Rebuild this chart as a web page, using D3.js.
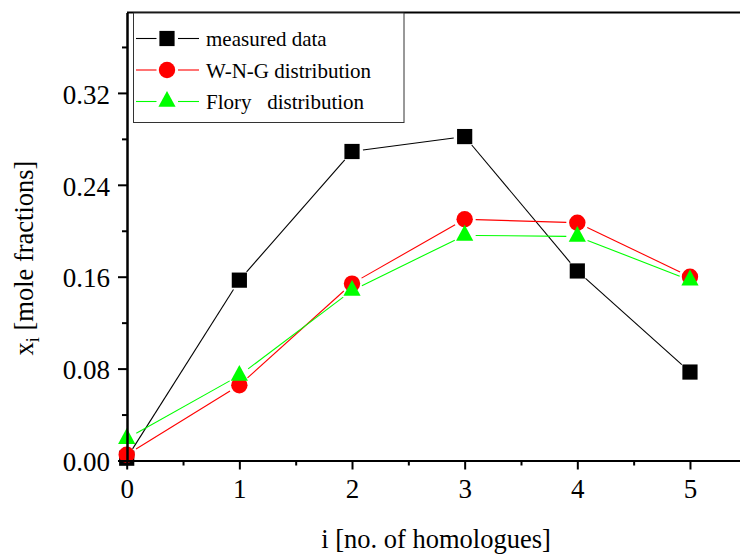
<!DOCTYPE html>
<html>
<head>
<meta charset="utf-8">
<script src="https://cdn.jsdelivr.net/npm/d3@7"></script>
<style>
  html, body { margin: 0; padding: 0; background: #fff; }
  svg { display: block; font-family: "Liberation Serif", "Times New Roman", serif; }
</style>
</head>
<body>
<svg id="chart" width="740" height="555"></svg>
<script>
// Homologue number i and mole fractions x_i for each series
const homologues = [0, 1, 2, 3, 4, 5];
const measuredData = [0.002, 0.157, 0.269, 0.282, 0.165, 0.077];
const wngDistribution = [0.005, 0.0655, 0.154, 0.210, 0.207, 0.160];
const floryDistribution = [0.019, 0.074, 0.148, 0.196, 0.195, 0.157];

const xTicks = [0, 1, 2, 3, 4, 5];
const xMinorTicks = [0.5, 1.5, 2.5, 3.5, 4.5, 5.5];
const yTicks = [0.00, 0.08, 0.16, 0.24, 0.32];
const yMinorTicks = [0.04, 0.12, 0.20, 0.28, 0.36];

const seriesNames = ["measured data", "W-N-G distribution", "Flory   distribution"];

const svg = d3.select("#chart");

const x = d3.scaleLinear().domain([0, 5.5]).range([126.7, 746.3]);
const y = d3.scaleLinear().domain([0, 0.39]).range([460.5, 12.5]);

const series = [
  { name: seriesNames[0], values: measuredData, color: "#000000", symbol: "square" },
  { name: seriesNames[1], values: wngDistribution, color: "#ff0000", symbol: "circle" },
  { name: seriesNames[2], values: floryDistribution, color: "#00ff00", symbol: "triangle" }
];

// marker shapes centred on the data point
function markerPath(kind) {
  if (kind === "square") { const s = 7.6; return `M${-s},${-s}H${s}V${s}H${-s}Z`; }
  if (kind === "circle") { const r = 8.2; return `M${r},0A${r},${r} 0 1,1 ${-r},0A${r},${r} 0 1,1 ${r},0Z`; }
  // triangle, centroid at origin
  const w = 8.6, top = -10.6, base = 5.3;
  return `M0,${top}L${w},${base}L${-w},${base}Z`;
}

const gap = 11; // connecting lines stop short of each symbol

const plot = svg.append("g");
series.forEach(s => {
  const pts = homologues.map((h, i) => [x(h), y(s.values[i])]);
  const g = plot.append("g");
  for (let i = 0; i < pts.length - 1; i++) {
    const [x1, y1] = pts[i], [x2, y2] = pts[i + 1];
    const len = Math.hypot(x2 - x1, y2 - y1);
    if (len <= 2 * gap) continue;
    const ux = (x2 - x1) / len, uy = (y2 - y1) / len;
    g.append("line")
      .attr("x1", x1 + ux * gap).attr("y1", y1 + uy * gap)
      .attr("x2", x2 - ux * gap).attr("y2", y2 - uy * gap)
      .attr("stroke", s.color).attr("stroke-width", 1.1);
  }
  g.selectAll("path.mk").data(pts).join("path")
    .attr("class", "mk")
    .attr("transform", d => `translate(${d[0]},${d[1]})`)
    .attr("d", markerPath(s.symbol))
    .attr("fill", s.color);
});

// axes
const axisStyle = sel => {
  sel.select(".domain").attr("stroke", "#000").attr("stroke-width", 2);
  sel.selectAll(".tick line").attr("stroke", "#000").attr("stroke-width", 2);
  sel.selectAll(".tick text").attr("fill", "#000").style("font-size", "27px")
    .style("font-family", "'Liberation Serif', 'Times New Roman', serif");
};

// y minor ticks then major ticks
svg.append("g").attr("transform", "translate(127,0)")
  .call(d3.axisLeft(y).tickValues(yMinorTicks).tickSize(5).tickSizeOuter(0).tickFormat(""))
  .call(axisStyle);
const yAxis = svg.append("g").attr("transform", "translate(127,0)")
  .call(d3.axisLeft(y).tickValues(yTicks).tickSize(9).tickSizeOuter(0).tickPadding(8).tickFormat(d3.format(".2f")))
  .call(axisStyle);
yAxis.selectAll(".tick text").attr("dy", "0.38em");

// x minor ticks then major ticks
svg.append("g").attr("transform", "translate(0,460.5)")
  .call(d3.axisBottom(x).tickValues(xMinorTicks).tickSize(5).tickSizeOuter(0).tickFormat(""))
  .call(axisStyle);
const xAxis = svg.append("g").attr("transform", "translate(0,460.5)")
  .call(d3.axisBottom(x).tickValues(xTicks).tickSize(9).tickSizeOuter(0).tickPadding(9).tickFormat(d3.format("d")))
  .call(axisStyle);
xAxis.selectAll(".tick text").attr("dy", "0.71em");

// top frame line
svg.append("line")
  .attr("x1", 127).attr("x2", 746).attr("y1", 12.5).attr("y2", 12.5)
  .attr("stroke", "#000").attr("stroke-width", 2);

// axis titles
svg.append("text")
  .attr("x", 436).attr("y", 548)
  .attr("text-anchor", "middle")
  .style("font-size", "26.5px")
  .text("i [no. of homologues]");

const yTitle = svg.append("text")
  .attr("transform", "translate(33,258) rotate(-90)")
  .attr("text-anchor", "middle")
  .style("font-size", "26.5px");
yTitle.append("tspan").text("x");
yTitle.append("tspan").attr("dy", 6).style("font-size", "18px").text("i");
yTitle.append("tspan").attr("dy", -6).text(" [mole fractions]");

// legend
const legend = svg.append("g");
legend.append("rect")
  .attr("x", 133.5).attr("y", 13).attr("width", 270.5).attr("height", 109.5)
  .attr("fill", "#fff").attr("stroke", "#333").attr("stroke-width", 1);
const rowY = [38.5, 70, 101.5];
series.forEach((s, i) => {
  const row = legend.append("g").attr("transform", `translate(0,${rowY[i]})`);
  row.append("line").attr("x1", 136).attr("x2", 167 - gap + 0.5).attr("y1", 0).attr("y2", 0)
    .attr("stroke", s.color).attr("stroke-width", 1.1);
  row.append("line").attr("x1", 167 + gap).attr("x2", 199).attr("y1", 0).attr("y2", 0)
    .attr("stroke", s.color).attr("stroke-width", 1.1);
  row.append("path").attr("transform", "translate(167,0)")
    .attr("d", markerPath(s.symbol)).attr("fill", s.color);
  row.append("text").attr("x", 206).attr("y", 7.5)
    .style("font-size", "21px").style("white-space", "pre")
    .attr("xml:space", "preserve")
    .text(s.name);
});
</script>
</body>
</html>
